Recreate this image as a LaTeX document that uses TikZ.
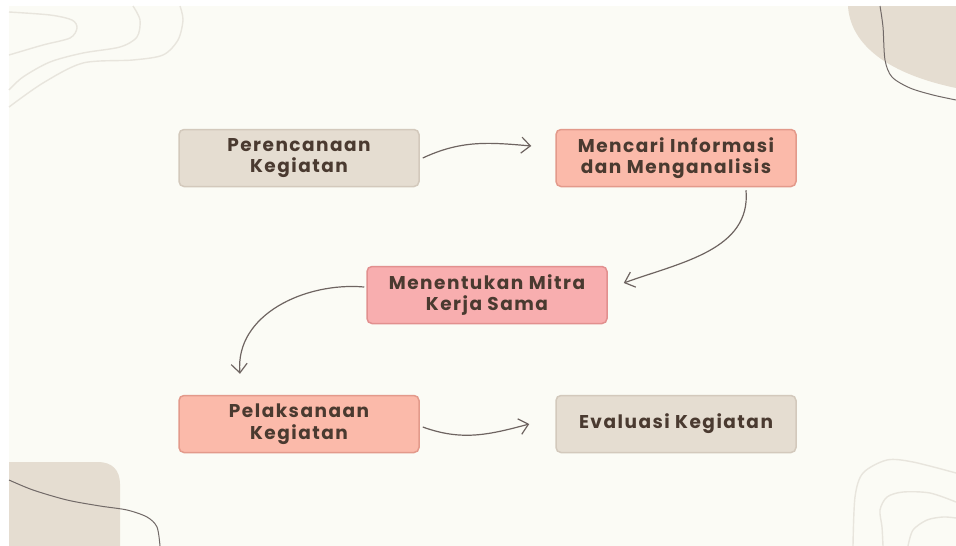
\documentclass[tikz,border=0pt]{standalone}
\usepackage{fontspec}
\setmainfont{Poppins}
\newfontfamily\boxfont{Poppins}[LetterSpace=8]
\usepackage{xcolor}
\usepackage{tikz}
\usetikzlibrary{shapes,arrows.meta}
\usetikzlibrary{positioning}
\definecolor{cream}{HTML}{FBFBF5}
\definecolor{beige}{HTML}{E5DDD1}
\definecolor{beigeline}{HTML}{D3C9BC}
\definecolor{salmon}{HTML}{FBBAAA}
\definecolor{salmonline}{HTML}{E39A8B}
\definecolor{rose}{HTML}{F8AEAF}
\definecolor{roseline}{HTML}{E2908F}
\definecolor{txtbrown}{HTML}{4A3A30}
\definecolor{arrowgray}{HTML}{6E6461}
\definecolor{decoline}{HTML}{E8E5DD}
\definecolor{decodark}{HTML}{716967}
\tikzstyle{block} = [rectangle, draw, line width=1.5pt, rounded corners=5pt,
    minimum width=240pt, minimum height=57pt, align=center, text=txtbrown,
    font=\boxfont\fontsize{18.5}{21.5}\selectfont\bfseries]
\tikzstyle{plan} = [block, fill=beige, draw=beigeline]
\tikzstyle{work} = [block, fill=salmon, draw=salmonline]
\tikzstyle{partner} = [block, fill=rose, draw=roseline]
\tikzstyle{line} = [draw=arrowgray, line width=1.2pt,
    -{Straight Barb[length=9pt,width=16pt]}]
\tikzstyle{deco} = [draw=decoline, line width=1.4pt]
\begin{document}
\begin{tikzpicture}[x=1pt, y=-1pt, node distance=377pt]
  \useasboundingbox (0,0) rectangle (956,546);
  \fill[cream] (9,6) rectangle (956,546);

  % Corner shapes
  \fill[beige] (848,6) .. controls (850,40) and (880,72) .. (956,88) -- (956,6) -- cycle;
  \draw[decodark, line width=1pt] plot[smooth] coordinates {(880,6) (883,27) (885,60) (892,77) (910,88) (933,95) (956,100)};
  \fill[beige] (9,546) -- (9,462) -- (98,462) .. controls (112,462) and (120,470) .. (120,484) -- (120,546) -- cycle;
  \draw[decodark, line width=1pt] plot[smooth] coordinates {(9,480) (33,490) (67,500) (100,506) (127,510) (147,517) (157,527) (160,546)};
  \draw[deco] plot[smooth] coordinates {(9,12) (50,15) (72,20) (77,28) (70,38) (43,45) (9,55)};
  \draw[deco] plot[smooth] coordinates {(133,6) (140,20) (137,37) (120,47) (83,53) (50,62) (23,77) (9,90)};
  \draw[deco] plot[smooth] coordinates {(180,6) (183,20) (178,40) (163,55) (133,60) (83,63) (43,83) (9,107)};
  \draw[deco] plot[smooth] coordinates {(853,546) (855,497) (863,473) (887,460) (913,462) (956,473)};
  \draw[deco] plot[smooth] coordinates {(883,546) (882,527) (880,510) (887,497) (903,492) (930,493) (956,502)};
  \draw[deco] plot[smooth] coordinates {(908,546) (913,530) (927,520) (943,517) (956,518)};

  % Place nodes
  \node [plan] (plan) at (299,158) {Perencanaan\\Kegiatan};
  \node [work, right of=plan] (info) {Mencari Informasi\\dan Menganalisis};
  \node [partner] (mitra) at (487,295) {Menentukan Mitra\\Kerja Sama};
  \node [work, below of=plan, node distance=266pt] (exec) {Pelaksanaan\\Kegiatan};
  \node [plan, right of=exec] (eval) {Evaluasi Kegiatan};

  % Draw edges
  \path [line] ([xshift=3pt]plan.east) to[out=25, in=175] ([xshift=-24pt, yshift=12pt]info.west);
  \path [line] ([xshift=70pt, yshift=-3pt]info.south) to[out=-85, in=20] ([xshift=16pt, yshift=12pt]mitra.east);
  \path [line] ([xshift=-2pt, yshift=8pt]mitra.west) to[out=175, in=95] ([xshift=-59pt, yshift=21pt]exec.north);
  \path [line] ([xshift=3pt, yshift=-3pt]exec.east) to[out=-20, in=195] ([xshift=-26pt, yshift=0pt]eval.west);
\end{tikzpicture}
\end{document}
